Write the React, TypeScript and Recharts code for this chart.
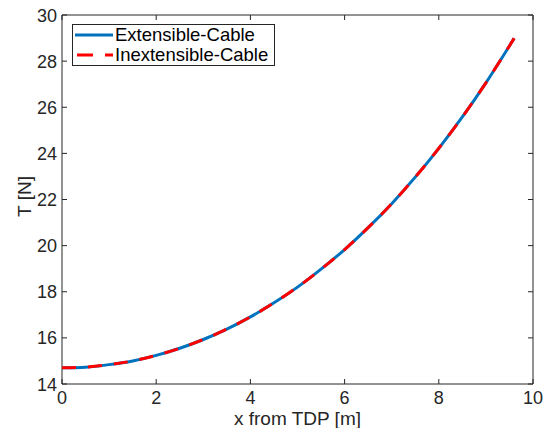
import React from 'react';
import { LineChart, Line, XAxis, YAxis, ReferenceArea } from 'recharts';

const xValues = [0, 0.5, 1, 1.5, 2, 2.5, 3, 3.5, 4, 4.5, 5, 5.5, 6, 6.5, 7, 7.5, 8, 8.5, 9, 9.6];
const extensibleT = [14.70, 14.73, 14.84, 15.00, 15.24, 15.55, 15.93, 16.38, 16.91, 17.52, 18.20, 18.98, 19.83, 20.78, 21.82, 22.97, 24.22, 25.58, 27.06, 28.99];
const inextensibleT = [14.70, 14.73, 14.84, 15.00, 15.24, 15.55, 15.93, 16.38, 16.91, 17.52, 18.20, 18.98, 19.83, 20.78, 21.82, 22.97, 24.22, 25.58, 27.06, 28.99];
const xTicks = [0, 2, 4, 6, 8, 10];
const yTicks = [14, 16, 18, 20, 22, 24, 26, 28, 30];
const seriesNames = ['Extensible-Cable', 'Inextensible-Cable'];
const xLabel = 'x from TDP [m]';
const yLabel = 'T [N]';

const data = xValues.map((x, i) => ({ x, ext: extensibleT[i], inext: inextensibleT[i] }));

const W = 545;
const H = 428;
const M = { top: 15, right: 12, left: 0, bottom: 0 };
const YW = 62;
const XH = 44;
const PLOT_TOP = M.top;
const PLOT_BOTTOM = H - M.bottom - XH;
const PLOT_LEFT = M.left + YW;
const PLOT_RIGHT = W - M.right;
const AXIS = '#262626';
const FONT = '"Liberation Sans", Arial, Helvetica, sans-serif';
const TICKLEN = 5;
const TICK_FS = 18;
const LABEL_FS = 19;

const XTick = (props: any) => {
  const { x, payload } = props;
  return (
    <g>
      <line x1={x} x2={x} y1={PLOT_BOTTOM} y2={PLOT_BOTTOM - TICKLEN} stroke={AXIS} strokeWidth={1} />
      <line x1={x} x2={x} y1={PLOT_TOP} y2={PLOT_TOP + TICKLEN} stroke={AXIS} strokeWidth={1} />
      <text x={x} y={PLOT_BOTTOM + 19.5} textAnchor="middle" fill={AXIS} fontSize={TICK_FS} fontFamily={FONT}>
        {payload.value}
      </text>
    </g>
  );
};

const YTick = (props: any) => {
  const { y, payload } = props;
  return (
    <g>
      <line x1={PLOT_LEFT} x2={PLOT_LEFT + TICKLEN} y1={y} y2={y} stroke={AXIS} strokeWidth={1} />
      <line x1={PLOT_RIGHT} x2={PLOT_RIGHT - TICKLEN} y1={y} y2={y} stroke={AXIS} strokeWidth={1} />
      <text x={PLOT_LEFT - 5} y={y + 6.5} textAnchor="end" fill={AXIS} fontSize={TICK_FS} fontFamily={FONT}>
        {payload.value}
      </text>
    </g>
  );
};

const XLabel = () => (
  <text x={(PLOT_LEFT + PLOT_RIGHT) / 2} y={425} textAnchor="middle" fill={AXIS} fontSize={LABEL_FS} fontFamily={FONT}>
    {xLabel}
  </text>
);

const YLabel = () => (
  <text
    transform={`translate(31, ${(PLOT_TOP + PLOT_BOTTOM) / 2 - 3}) rotate(-90)`}
    textAnchor="middle"
    fill={AXIS}
    fontSize={LABEL_FS}
    fontFamily={FONT}
  >
    {yLabel}
  </text>
);

const LegendBox = () => (
  <div
    style={{
      position: 'absolute',
      left: 72,
      top: 24,
      border: '1px solid #262626',
      background: '#fff',
      width: 201,
      height: 40,
      fontFamily: FONT,
      fontSize: 18.5,
      color: '#000',
      boxSizing: 'content-box',
      lineHeight: '20px',
      whiteSpace: 'nowrap',
    }}
  >
    <div style={{ display: 'flex', alignItems: 'center', height: 20, marginTop: 0 }}>
      <svg width={42} height={10} style={{ flex: 'none' }}>
        <line x1={2} x2={40} y1={5} y2={5} stroke="#0072BD" strokeWidth={3} />
      </svg>
      <span>{seriesNames[0]}</span>
    </div>
    <div style={{ display: 'flex', alignItems: 'center', height: 20 }}>
      <svg width={42} height={10} style={{ flex: 'none' }}>
        <line x1={4} x2={40} y1={5} y2={5} stroke="#FF0000" strokeWidth={3} strokeDasharray="16 12" />
      </svg>
      <span>{seriesNames[1]}</span>
    </div>
  </div>
);

export default function App() {
  return (
    <div style={{ position: 'absolute', left: 0, top: 0, width: W, height: H, background: '#fff' }}>
      <LineChart width={W} height={H} data={data} margin={M}>
        <XAxis
          dataKey="x"
          type="number"
          domain={[0, 10]}
          ticks={xTicks}
          height={XH}
          tickLine={false}
          tickSize={0}
          tickMargin={0}
          axisLine={false}
          tick={<XTick />}
          interval={0}
          label={<XLabel />}
        />
        <YAxis
          type="number"
          domain={[14, 30]}
          ticks={yTicks}
          width={YW}
          tickLine={false}
          tickSize={0}
          tickMargin={0}
          axisLine={false}
          tick={<YTick />}
          interval={0}
          label={<YLabel />}
        />
        <ReferenceArea x1={0} x2={10} y1={14} y2={30} fill="none" stroke={AXIS} strokeWidth={1} ifOverflow="visible" />
        <Line name={seriesNames[0]} type="monotone" dataKey="ext" stroke="#0072BD" strokeWidth={3} dot={false} isAnimationActive={false} />
        <Line name={seriesNames[1]} type="monotone" dataKey="inext" stroke="#FF0000" strokeWidth={3} strokeDasharray="14 12" dot={false} isAnimationActive={false} />
      </LineChart>
      <LegendBox />
    </div>
  );
}
